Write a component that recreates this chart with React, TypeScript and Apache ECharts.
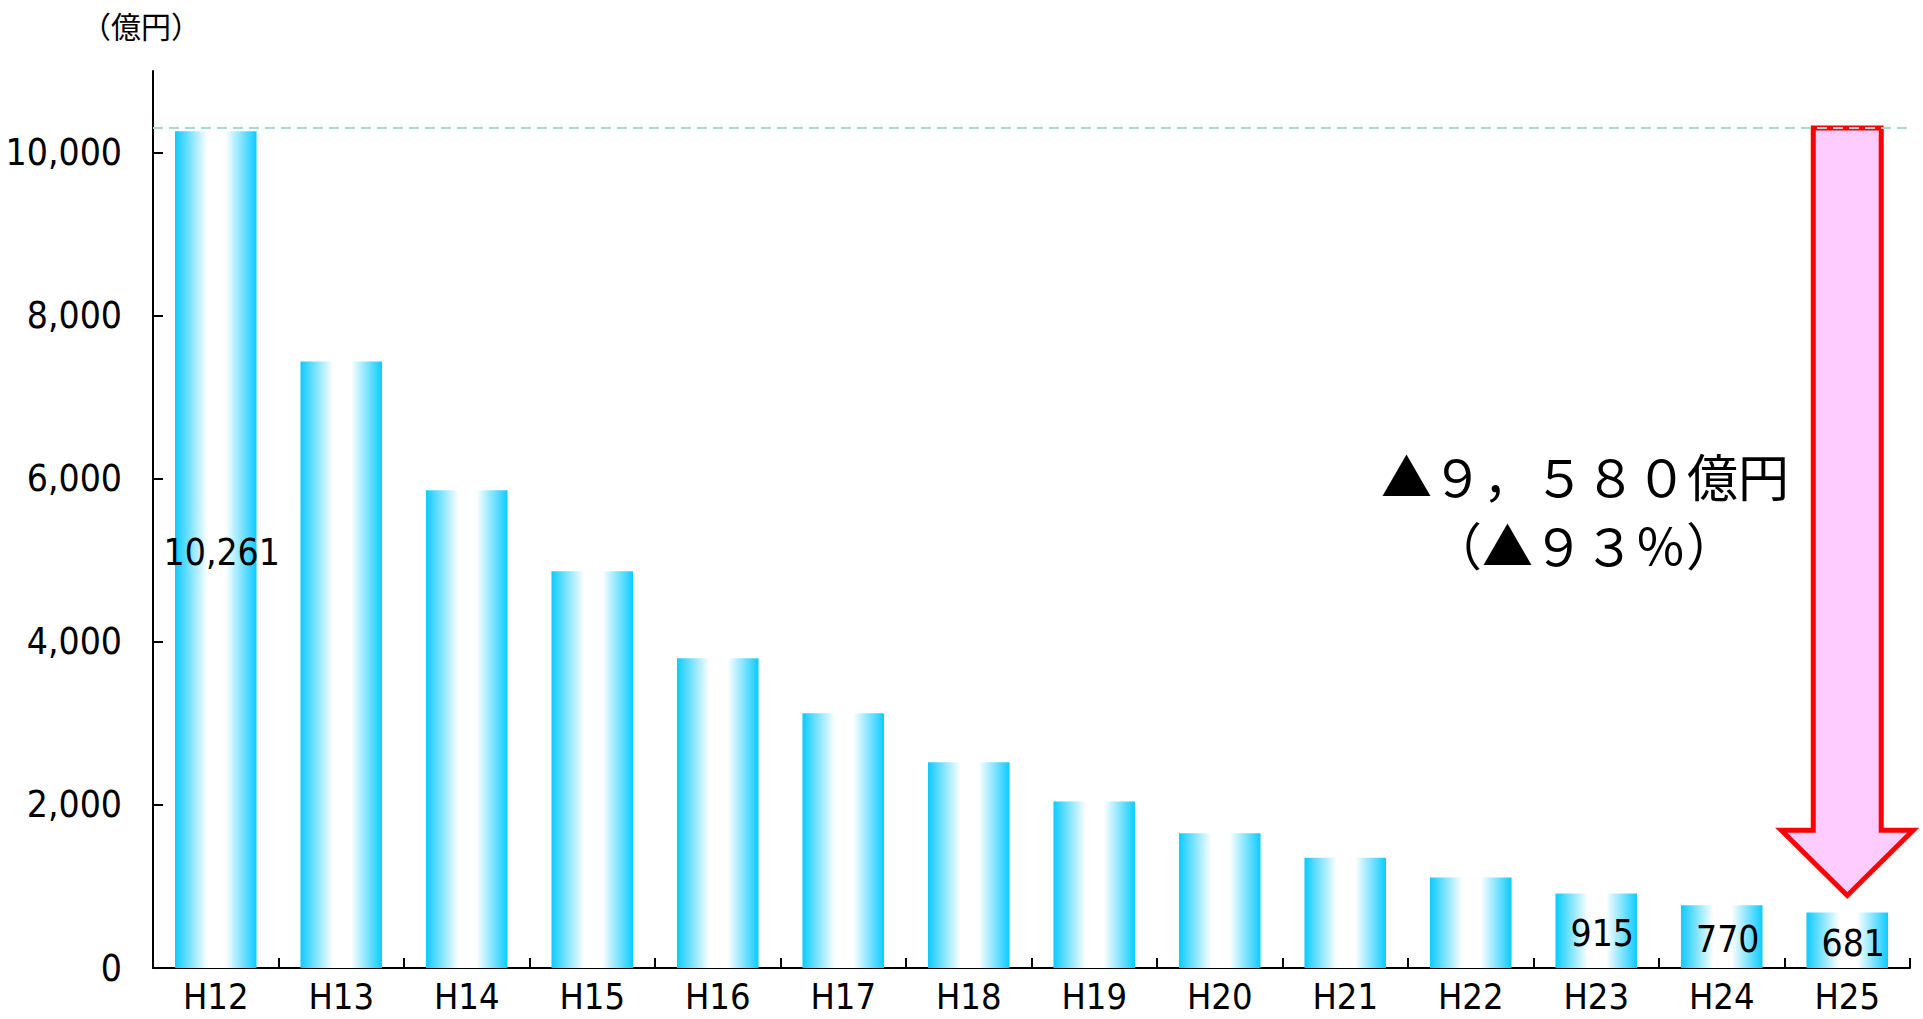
import React, { useEffect, useRef } from "react";
import * as echarts from "echarts";

const categories = ["H12", "H13", "H14", "H15", "H16", "H17", "H18", "H19", "H20", "H21", "H22", "H23", "H24", "H25"];
const values = [10261, 7438, 5860, 4865, 3800, 3123, 2523, 2042, 1652, 1351, 1111, 915, 770, 681];
const labeledCategories = ["H12", "H23", "H24", "H25"];
const yTicks = [0, 2000, 4000, 6000, 8000, 10000];
const yMax = 11000;
const referenceLevel = 10300;
const arrowNeckValue = 1690;
const arrowTipValue = 890;
const annotationLines = ["▲９，５８０億円", "（▲９３％）"];
const unitLabel = "（億円）";

const NARROW = "'Liberation Sans Narrow', 'Arial Narrow', 'DejaVu Sans Condensed', sans-serif";
const JP = "'Noto Sans CJK JP', sans-serif";

const fmt = (v: number) => v.toLocaleString("en-US");

export default function App() {
  const ref = useRef<HTMLDivElement>(null);
  useEffect(() => {
    if (!ref.current) return;
    const chart = echarts.init(ref.current, null, { renderer: "svg" });
    const barGradient = new echarts.graphic.LinearGradient(0, 0, 1, 0, [
      { offset: 0, color: "#0ccbff" },
      { offset: 0.4, color: "#ffffff" },
      { offset: 0.62, color: "#ffffff" },
      { offset: 1, color: "#0ccbff" },
    ]);
    chart.setOption({
      animation: false,
      backgroundColor: "#ffffff",
      grid: { left: 153, right: 13, top: 71, bottom: 51, outerBoundsMode: "none" },
      xAxis: {
        type: "category",
        data: categories,
        axisLine: { lineStyle: { color: "#000", width: 2 } },
        axisTick: { show: true, inside: true, length: 10, lineStyle: { color: "#000", width: 2 } },
        axisLabel: { color: "#000", fontFamily: NARROW, fontSize: 36, margin: 10 },
      },
      yAxis: {
        type: "value",
        min: 0,
        max: yMax,
        interval: 2000,
        splitLine: { show: false },
        axisLine: { show: true, lineStyle: { color: "#000", width: 2 } },
        axisTick: { show: true, inside: true, length: 10, lineStyle: { color: "#000", width: 2 }, customValues: yTicks },
        axisLabel: {
          color: "#000",
          fontFamily: NARROW,
          fontSize: 37,
          margin: 31,
          customValues: yTicks,
          formatter: (v: number) => fmt(v),
        },
      },
      series: [
        {
          type: "bar",
          barCategoryGap: "35%",
          itemStyle: { color: barGradient },
          data: values.map((v, i) => ({
            value: v,
            label: {
              show: labeledCategories.includes(categories[i]),
              position: "inside",
              offset: [6, 3],
              color: "#000",
              fontFamily: NARROW,
              fontSize: 37,
              formatter: (p: any) => fmt(p.value),
            },
          })),
          markLine: {
            silent: true,
            symbol: "none",
            label: { show: false },
            lineStyle: { color: "#a9d6d6", width: 2, type: [10, 6] },
            data: [{ yAxis: referenceLevel }],
          },
          z: 2,
        },
      ],
    });

    const idx = categories.length - 1;
    const cx = chart.convertToPixel({ xAxisIndex: 0 }, idx) as number;
    const yTop = chart.convertToPixel({ yAxisIndex: 0 }, referenceLevel) as number;
    const yNeck = chart.convertToPixel({ yAxisIndex: 0 }, arrowNeckValue) as number;
    const yTip = chart.convertToPixel({ yAxisIndex: 0 }, arrowTipValue) as number;
    const sw = 34;
    const hw = 66;

    chart.setOption({
      graphic: [
        {
          type: "polygon",
          z: 1,
          shape: {
            points: [
              [cx - sw, yTop],
              [cx + sw, yTop],
              [cx + sw, yNeck],
              [cx + hw, yNeck],
              [cx, yTip],
              [cx - hw, yNeck],
              [cx - sw, yNeck],
            ],
          },
          style: { fill: "#ffccff", stroke: "#ff0000", lineWidth: 5, lineJoin: "miter" },
        },
        {
          type: "text",
          x: 1585,
          y: 475,
          z: 5,
          style: {
            text: annotationLines[0],
            fill: "#000",
            font: `51px ${JP}`,
            align: "center",
            verticalAlign: "middle",
          },
        },
        {
          type: "text",
          x: 1584,
          y: 544,
          z: 5,
          style: {
            text: annotationLines[1],
            fill: "#000",
            font: `51px ${JP}`,
            align: "center",
            verticalAlign: "middle",
          },
        },
        {
          type: "text",
          x: 141,
          y: 25,
          style: {
            text: unitLabel,
            fill: "#000",
            font: `30px ${JP}`,
            align: "center",
            verticalAlign: "middle",
          },
        },
      ],
    });

    return () => chart.dispose();
  }, []);
  return <div ref={ref} style={{ position: "fixed", left: 0, top: 0, width: 1923, height: 1019 }} />;
}
